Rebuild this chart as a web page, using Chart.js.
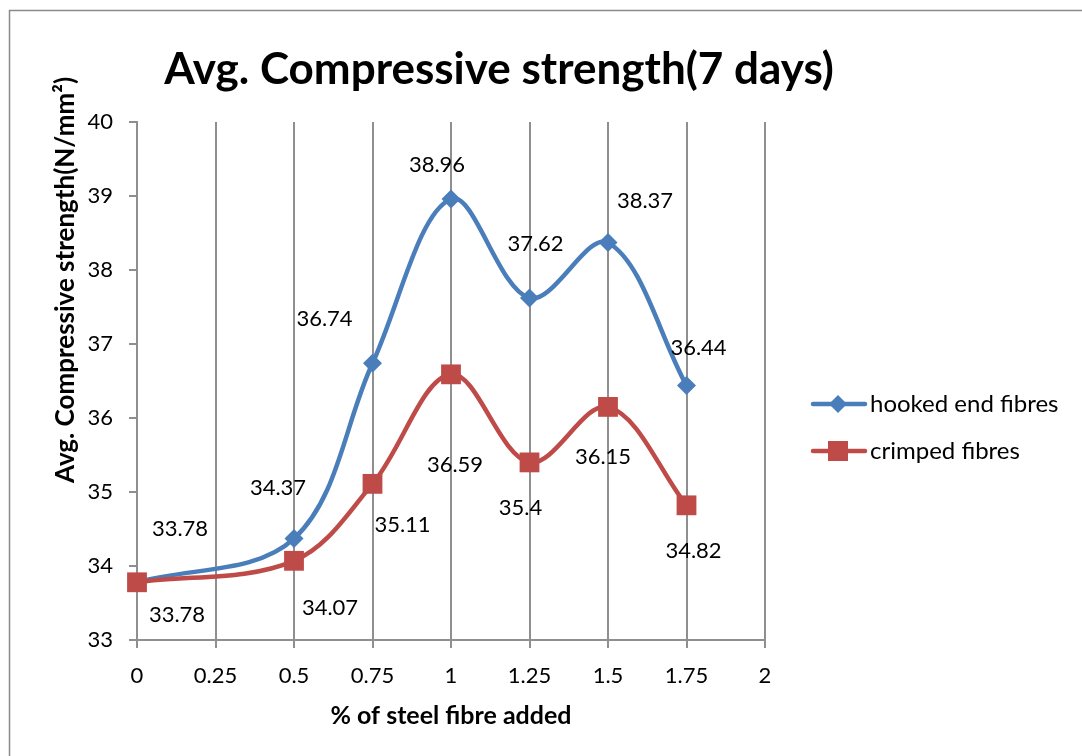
<!DOCTYPE html>
<html><head><meta charset="utf-8">
<script src="https://cdn.jsdelivr.net/npm/chart.js@4.4.0/dist/chart.umd.min.js"></script>
<style>html,body{margin:0;padding:0;background:#fff;overflow:hidden}#wrap{position:relative;width:1082px;height:756px}</style>
</head><body><div id="wrap"><canvas id="c" width="1082" height="756"></canvas></div>
<script>
const fibreContent = [0, 0.5, 0.75, 1, 1.25, 1.5, 1.75];
const hookedEnd = [33.78, 34.37, 36.74, 38.96, 37.62, 38.37, 36.44];
const crimped = [33.78, 34.07, 35.11, 36.59, 35.4, 36.15, 34.82];
const seriesNames = ['hooked end fibres', 'crimped fibres'];
const xTickValues = [0, 0.25, 0.5, 0.75, 1, 1.25, 1.5, 1.75, 2];
const yTickValues = [33, 34, 35, 36, 37, 38, 39, 40];
const chartTitle = 'Avg. Compressive strength(7 days)';
const xAxisTitle = '% of steel fibre added';
const yAxisTitle = 'Avg. Compressive strength(N/mm²)';

// data-label placement relative to each point (px)
const hookedLabelOffsets = [[43,-53],[-16,-51],[-48,-44],[-14,-34],[6,-54],[37,-42],[12,-38]];
const crimpedLabelOffsets = [[40,33],[36,47],[30,41],[4,91],[-9,46],[-5,50],[7,46]];

const BLUE = '#4A7EBB', RED = '#BE4B48', GRID = '#8f8f8f';
const FONT = 'Lato, "Open Sans", sans-serif';

const toPts = (ys) => fibreContent.map((x, i) => ({x, y: ys[i]}));

const overlay = {
  id: 'overlay',
  beforeDraw(chart) {
    const c = chart.ctx;
    c.save();
    c.fillStyle = '#fff';
    c.fillRect(0, 0, chart.width, chart.height);
    c.strokeStyle = '#8a8a8a';
    c.lineWidth = 1.5;
    c.strokeRect(9.5, 10.5, 1300, 1000);
    c.restore();
  },
  afterDraw(chart) {
    const c = chart.ctx;
    c.save();
    c.fillStyle = '#000';
    c.textAlign = 'center';
    c.textBaseline = 'middle';
    c.font = 'bold 44px ' + FONT;
    c.fillText(chartTitle, 499, 70);
    c.font = 'bold 25px ' + FONT;
    c.fillText(xAxisTitle, 451, 716);
    c.save();
    c.translate(66, 280);
    c.rotate(-Math.PI / 2);
    c.font = 'bold 26px ' + FONT;
    c.fillText(yAxisTitle, 0, 0);
    c.restore();

    // data labels
    c.font = '22px ' + FONT;
    const offs = [hookedLabelOffsets, crimpedLabelOffsets];
    chart.data.datasets.forEach((ds, di) => {
      const meta = chart.getDatasetMeta(di);
      meta.data.forEach((pt, i) => {
        const o = offs[di][i];
        c.fillText(String(ds.data[i].y), pt.x + o[0], pt.y + o[1]);
      });
    });

    // legend
    const items = [[0, 404], [1, 451]];
    items.forEach(([di, y]) => {
      const ds = chart.data.datasets[di];
      c.strokeStyle = ds.borderColor;
      c.lineWidth = 4.5;
      c.lineCap = 'round';
      c.beginPath(); c.moveTo(813, y); c.lineTo(865, y); c.stroke();
      c.fillStyle = ds.borderColor;
      if (ds.pointStyle === 'rectRot') {
        const r = 9;
        c.beginPath(); c.moveTo(838 - r, y); c.lineTo(838, y - r); c.lineTo(838 + r, y); c.lineTo(838, y + r); c.closePath(); c.fill();
      } else {
        c.fillRect(838 - 10, y - 10, 20, 20);
      }
      c.fillStyle = '#000';
      c.textAlign = 'left';
      c.font = '24px ' + FONT;
      c.fillText(ds.label, 870, y);
    });
    c.restore();
  }
};

new Chart(document.getElementById('c'), {
  type: 'line',
  data: {
    datasets: [
      { label: seriesNames[0], data: toPts(hookedEnd), borderColor: BLUE, backgroundColor: BLUE,
        pointBackgroundColor: BLUE, pointBorderColor: BLUE, pointBorderWidth: 0,
        borderWidth: 4.5, pointStyle: 'rectRot', pointRadius: 9.5, tension: 0.35, order: 1, clip: false },
      { label: seriesNames[1], data: toPts(crimped), borderColor: RED, backgroundColor: RED,
        pointBackgroundColor: RED, pointBorderColor: RED, pointBorderWidth: 0,
        borderWidth: 4.5, pointStyle: 'rect', pointRadius: 14, tension: 0.35, order: 0, clip: false }
    ]
  },
  options: {
    responsive: false,
    animation: false,
    devicePixelRatio: 1,
    layout: { padding: { top: 122, right: 317, left: 0, bottom: 0 } },
    plugins: { legend: { display: false }, tooltip: { enabled: false }, title: { display: false } },
    scales: {
      x: {
        type: 'linear', min: 0, max: 2,
        afterBuildTicks: (s) => { s.ticks = xTickValues.map(v => ({ value: v })); },
        afterFit: (s) => { s.height = 116; },
        grid: { color: GRID, lineWidth: 2, tickLength: 8, tickColor: GRID },
        border: { color: GRID, width: 2 },
        ticks: { color: '#000', font: { family: FONT, size: 22 }, padding: 15, maxRotation: 0, autoSkip: false,
                 callback: (v) => String(v) }
      },
      y: {
        min: 33, max: 40,
        afterBuildTicks: (s) => { s.ticks = yTickValues.map(v => ({ value: v })); },
        afterFit: (s) => { s.width = 137; },
        grid: { drawOnChartArea: false, color: GRID, lineWidth: 2, tickLength: 8, tickColor: GRID },
        border: { color: GRID, width: 2 },
        ticks: { color: '#000', font: { family: FONT, size: 22 }, padding: 16, callback: (v) => String(v) }
      }
    }
  },
  plugins: [overlay]
});
</script></body></html>
